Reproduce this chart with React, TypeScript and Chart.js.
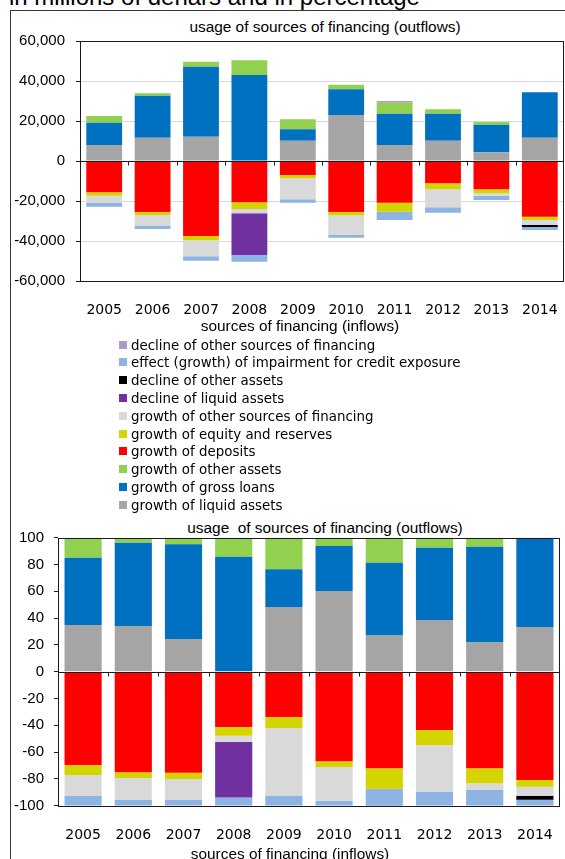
import React, { useEffect, useRef } from 'react';
import { Chart, registerables } from 'chart.js';

Chart.register(...registerables);

// ---------- data ----------
const years = ['2005', '2006', '2007', '2008', '2009', '2010', '2011', '2012', '2013', '2014'];

const seriesNames = [
  'growth of liquid assets',
  'growth of gross loans',
  'growth of other assets',
  'growth of deposits',
  'growth of equity and reserves',
  'growth of other sources of financing',
  'decline of liquid assets',
  'decline of other assets',
  'effect (growth) of impairment for credit exposure',
  'decline of other sources of financing',
];
const seriesColors = [
  '#A5A5A5', '#0070C0', '#92D050', '#FF0000', '#D4D400',
  '#D9D9D9', '#7030A0', '#000000', '#8DB4E2', '#A99BC6',
];

// in millions of denars
const liquidAssetsGrowthM = [8000, 11670, 12170, 0, 10170, 23000, 8000, 10170, 4330, 11670];
const grossLoansGrowthM = [11170, 21000, 35000, 43000, 5670, 12830, 15670, 13500, 13830, 22670];
const otherAssetsGrowthM = [3330, 1170, 2500, 7330, 5000, 2330, 5500, 2170, 1330, 0];
const depositsGrowthM = [-15670, -25500, -37500, -20670, -7000, -25500, -20830, -11170, -14170, -27830];
const equityGrowthM = [-1670, -1500, -2170, -3330, -1670, -1670, -4500, -2830, -2000, -1670];
const otherSourcesGrowthM = [-3500, -5500, -8000, -2170, -10500, -9830, 0, -9170, -1170, -2500];
const liquidAssetsDeclineM = [0, 0, 0, -20830, 0, 0, 0, 0, 0, 0];
const otherAssetsDeclineM = [0, 0, 0, 0, 0, 0, 0, 0, 0, -1000];
const impairmentEffectM = [-2000, -1500, -2170, -3330, -1670, -1330, -4170, -2670, -2170, -1500];
const otherSourcesDeclineM = [0, 0, 0, 0, 0, 0, 800, 0, 0, 0];

// in percentage
const liquidAssetsGrowthP = [34.8, 34.1, 24.4, 0, 48.3, 60.2, 27.1, 38.6, 22.2, 33.4];
const grossLoansGrowthP = [50.3, 62.2, 70.7, 85.8, 28.1, 33.6, 54.2, 53.9, 71.1, 66.6];
const otherAssetsGrowthP = [14.9, 3.7, 4.9, 14.2, 23.6, 6.2, 18.7, 7.5, 6.7, 0];
const depositsGrowthP = [-69.6, -75.1, -75.4, -41.3, -33.8, -66.9, -72.1, -43.5, -72.1, -80.8];
const equityGrowthP = [-7.5, -4.2, -4.7, -6.5, -8.2, -4.2, -15.2, -11.2, -11.2, -5.0];
const otherSourcesGrowthP = [-15.7, -16.4, -15.6, -4.7, -50.3, -25.2, 0, -35.1, -5.0, -6.7];
const liquidAssetsDeclineP = [0, 0, 0, -41.3, 0, 0, 0, 0, 0, 0];
const otherAssetsDeclineP = [0, 0, 0, 0, 0, 0, 0, 0, 0, -3.0];
const impairmentEffectP = [-7.2, -4.3, -4.3, -6.2, -7.7, -3.7, -14.2, -10.2, -11.7, -4.5];
const otherSourcesDeclineP = [0, 0, 0, 0, 0, 0, 0, 0, 0, 0];

const millionsSeries = [
  liquidAssetsGrowthM, grossLoansGrowthM, otherAssetsGrowthM, depositsGrowthM, equityGrowthM,
  otherSourcesGrowthM, liquidAssetsDeclineM, otherAssetsDeclineM, impairmentEffectM, otherSourcesDeclineM,
];
const percentSeries = [
  liquidAssetsGrowthP, grossLoansGrowthP, otherAssetsGrowthP, depositsGrowthP, equityGrowthP,
  otherSourcesGrowthP, liquidAssetsDeclineP, otherAssetsDeclineP, impairmentEffectP, otherSourcesDeclineP,
];

const millionsAxis = { min: -60000, max: 60000, step: 20000 };
const percentAxis = { min: -100, max: 100, step: 20 };

const mainTitle = 'in millions of denars and in percentage';
const topTitle = 'usage of sources of financing (outflows)';
const bottomTitle = 'usage  of sources of financing (outflows)';
const xTitle = 'sources of financing (inflows)';

// ---------- chart ----------
const framePlugin = {
  id: 'frameAndZero',
  afterDatasetsDraw(chart: any) {
    const { ctx, chartArea: a, scales } = chart;
    const x = scales.x;
    const y = scales.y;
    const l = Math.round(a.left) + 0.5;
    const t = Math.round(a.top) + 0.5;
    const r = Math.round(a.right) - 0.5;
    const b = Math.round(a.bottom) + 0.5;
    ctx.save();
    ctx.strokeStyle = '#1a1a1a';
    ctx.lineWidth = 1;
    ctx.strokeRect(l, t, r - l, b - t);
    const y0 = Math.round(y.getPixelForValue(0)) + 0.5;
    ctx.beginPath();
    ctx.moveTo(l, y0);
    ctx.lineTo(r, y0);
    const n = years.length;
    for (let i = 1; i < n; i++) {
      const px = Math.round((x.getPixelForValue(i - 1) + x.getPixelForValue(i)) / 2) + 0.5;
      ctx.moveTo(px, y0);
      ctx.lineTo(px, y0 + 4);
    }
    ctx.stroke();
    ctx.restore();
  },
};

type Cfg = {
  series: number[][];
  axis: { min: number; max: number; step: number };
  fmt: (v: number) => string;
  w: number;
  h: number;
  top: number;
  padTop: number;
  padRight: number;
  yWidth: number;
  xHeight: number;
  yPad: number;
  xPad: number;
  grid: boolean;
};

function StackedChart({ cfg }: { cfg: Cfg }) {
  const ref = useRef<HTMLCanvasElement>(null);
  useEffect(() => {
    const chart = new Chart(ref.current as HTMLCanvasElement, {
      type: 'bar',
      data: {
        labels: years,
        datasets: cfg.series.map((d, i) => ({
          label: seriesNames[i],
          data: d,
          backgroundColor: seriesColors[i],
          borderWidth: 0,
          categoryPercentage: 1,
          barPercentage: 0.74,
        })),
      },
      options: {
        responsive: false,
        animation: false,
        devicePixelRatio: 1,
        layout: { padding: { top: cfg.padTop, right: cfg.padRight, left: 0, bottom: 0 } },
        plugins: {
          legend: { display: false },
          title: { display: false },
          tooltip: { enabled: false },
        },
        scales: {
          x: {
            stacked: true,
            grid: { display: false },
            border: { display: false },
            ticks: {
              padding: cfg.xPad,
              color: '#000',
              maxRotation: 0,
              autoSkip: false,
              font: { family: 'DejaVu Sans', size: 14 },
            },
            afterFit: (s: any) => {
              s.height = cfg.xHeight;
            },
          },
          y: {
            stacked: true,
            min: cfg.axis.min,
            max: cfg.axis.max,
            ticks: {
              stepSize: cfg.axis.step,
              padding: cfg.yPad,
              color: '#000',
              font: { family: 'Liberation Sans', size: 15 },
              callback: (v: any) => cfg.fmt(Number(v)),
            },
            grid: {
              drawOnChartArea: cfg.grid,
              color: '#D9D9D9',
              tickColor: '#1a1a1a',
              tickLength: 4,
              drawTicks: true,
            },
            border: { display: false },
            afterFit: (s: any) => {
              s.width = cfg.yWidth;
            },
          },
        },
      } as any,
      plugins: [framePlugin],
    });
    return () => chart.destroy();
  }, []);
  return (
    <canvas
      ref={ref}
      width={cfg.w}
      height={cfg.h}
      style={{ position: 'absolute', left: 0, top: cfg.top, width: cfg.w, height: cfg.h }}
    />
  );
}

const LIB = '"Liberation Sans", Arial, sans-serif';
const DEJ = '"DejaVu Sans", Verdana, sans-serif';

function Txt({ text, cx, left, baseline, size, family, asc }: any) {
  const top = baseline - asc * size;
  const common: any = {
    position: 'absolute',
    top,
    fontFamily: family,
    fontSize: size,
    lineHeight: 'normal',
    whiteSpace: 'pre',
    color: '#000',
  };
  if (cx !== undefined) {
    return (
      <div style={{ ...common, left: cx - 400, width: 800, textAlign: 'center' }}>{text}</div>
    );
  }
  return <div style={{ ...common, left }}>{text}</div>;
}

export default function App() {
  const topCfg: Cfg = {
    series: millionsSeries,
    axis: millionsAxis,
    fmt: (v) => v.toLocaleString('en-US'),
    w: 580,
    h: 320,
    top: 0,
    padTop: 41,
    padRight: 16,
    yWidth: 80,
    xHeight: 39,
    yPad: 11,
    xPad: 13,
    grid: true,
  };
  const bottomCfg: Cfg = {
    series: percentSeries,
    axis: percentAxis,
    fmt: (v) => String(v),
    w: 580,
    h: 349,
    top: 510,
    padTop: 27.7,
    padRight: 20,
    yWidth: 58,
    xHeight: 53.3,
    yPad: 10,
    xPad: 13,
    grid: false,
  };
  const legendOrder = seriesNames.map((_, i) => i).reverse();
  return (
    <div
      style={{
        position: 'absolute',
        left: 0,
        top: 0,
        width: 565,
        height: 859,
        overflow: 'hidden',
        background: '#fff',
      }}
    >
      <div
        style={{
          position: 'absolute',
          left: 10,
          top: 10,
          width: 700,
          height: 900,
          borderLeft: '1px solid #333',
          borderTop: '1px solid #333',
        }}
      />
      <Txt text={mainTitle} left={9} baseline={5} size={24} family={LIB} asc={0.905} />
      <Txt text={topTitle} cx={325} baseline={32} size={15.4} family={LIB} asc={0.905} />
      <StackedChart cfg={topCfg} />
      <Txt text={xTitle} cx={300} baseline={330.5} size={15.4} family={LIB} asc={0.905} />
      {legendOrder.map((si, row) => {
        const base = 350 + row * 17.8;
        return (
          <React.Fragment key={si}>
            <div
              style={{
                position: 'absolute',
                left: 119,
                top: base - 9.5,
                width: 8,
                height: 8,
                background: seriesColors[si],
              }}
            />
            <Txt text={seriesNames[si]} left={131} baseline={base} size={13.4} family={DEJ} asc={0.928} />
          </React.Fragment>
        );
      })}
      <Txt text={bottomTitle} cx={325} baseline={532.8} size={15.4} family={LIB} asc={0.905} />
      <StackedChart cfg={bottomCfg} />
      <Txt text={xTitle} cx={290} baseline={858.5} size={15.4} family={LIB} asc={0.905} />
    </div>
  );
}
